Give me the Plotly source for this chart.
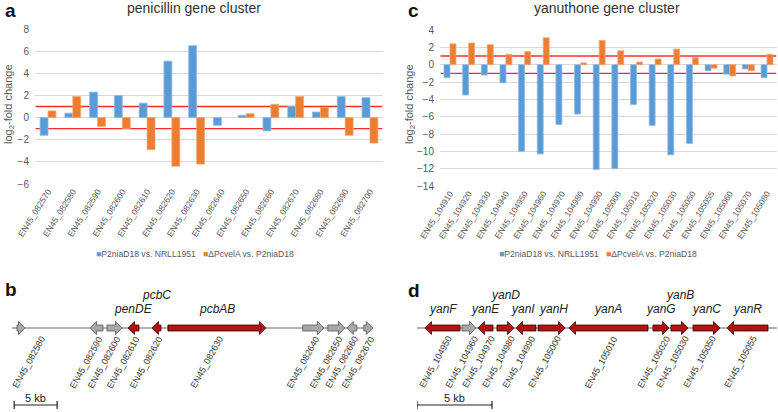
import plotly.graph_objects as go

# ---------------- data ----------------
pen_genes = ["EN45_082570", "EN45_082580", "EN45_082590", "EN45_082600", "EN45_082610",
             "EN45_082620", "EN45_082630", "EN45_082640", "EN45_082650", "EN45_082660",
             "EN45_082670", "EN45_082680", "EN45_082690", "EN45_082700"]
pen_p2nia = [-1.6, 0.4, 2.3, 2.0, 1.3, 5.1, 6.5, -0.7, 0.2, -1.2, 1.0, 0.5, 1.9, 1.8]
pen_velA = [0.6, 1.9, -0.8, -1.0, -2.9, -4.4, -4.2, None, 0.35, 1.2, 1.9, 0.9, -1.6, -2.3]

yan_genes = ["EN45_104910", "EN45_104920", "EN45_104930", "EN45_104940", "EN45_104950",
             "EN45_104960", "EN45_104970", "EN45_104980", "EN45_104990", "EN45_105000",
             "EN45_105010", "EN45_105020", "EN45_105030", "EN45_105050", "EN45_105055",
             "EN45_105060", "EN45_105070", "EN45_105080"]
yan_p2nia = [-1.5, -3.5, -1.2, -2.1, -10.0, -10.3, -6.9, -5.7, -12.1, -12.0,
             -4.6, -7.0, -10.4, -9.1, -0.7, -1.1, -0.5, -1.5]
yan_velA = [2.4, 2.5, 2.3, 1.2, 1.5, 3.1, None, 0.2, 2.8, 1.6,
            0.3, 0.65, 1.8, 0.8, -0.4, -1.3, -0.7, 1.2]

series_names = ["P2niaD18 vs. NRLL1951", "\u0394PcvelA vs. P2niaD18"]
threshold = 1.0

# gene maps (kb from locus start)
pen_map_ids = ["EN45_082580", "EN45_082590", "EN45_082600", "EN45_082610", "EN45_082620",
               "EN45_082630", "EN45_082640", "EN45_082650", "EN45_082660", "EN45_082670"]
pen_map_start = [0.58, 9.07, 11.05, 13.49, 16.28, 18.14, 33.84, 36.74, 38.95, 40.93]
pen_map_end = [1.51, 10.58, 12.79, 14.77, 17.33, 29.53, 36.28, 38.72, 40.12, 41.98]
pen_map_strand = [1, -1, 1, -1, -1, 1, 1, 1, -1, 1]
pen_map_names = ["", "", "", "penDE", "pcbC", "pcbAB", "", "", "", ""]
pen_locus = [0.0, 42.0]

yan_map_ids = ["EN45_104950", "EN45_104960", "EN45_104970", "EN45_104980", "EN45_104990",
               "EN45_105000", "EN45_105010", "EN45_105020", "EN45_105030", "EN45_105050",
               "EN45_105055"]
yan_map_start = [0.53, 3.0, 4.07, 5.33, 6.6, 8.07, 10.13, 15.73, 16.93, 18.4, 20.67]
yan_map_end = [2.87, 3.93, 5.07, 6.47, 7.93, 9.87, 15.4, 16.8, 18.07, 20.2, 23.4]
yan_map_strand = [-1, 1, -1, 1, -1, 1, -1, 1, 1, 1, -1]
yan_map_names = ["yanF", "", "yanE", "yanD", "yanI", "yanH", "yanA", "yanG", "yanB", "yanC", "yanR"]
yan_locus = [0.0, 24.0]

scale_kb = 5.0

# ---------------- style ----------------
W, H = 778, 412
FONT = "Liberation Sans, Arial, sans-serif"
BLUE, ORANGE = "#5B9BD5", "#ED7D31"
BLUE_EDGE, ORANGE_EDGE = "#8DBBE6", "#F4A672"
RED_LINE = "#FF2A2A"
GRID = "#D9D9D9"
TXT = "#595959"
GENE_RED, GENE_RED_EDGE = "#B01212", "#3A0505"
GENE_GREY, GENE_GREY_EDGE = "#A8A8A8", "#555555"
raised_names = {"pcbC", "yanD", "yanB"}
name_shift = {"yanI": -3, "yanH": 2}


def fx(p):
    return p / W


def fy(p):
    return 1 - p / H


fig = go.Figure()

# ---------- bar panels ----------
for xa, ya, cats, v1, v2 in [("x", "y", pen_genes, pen_p2nia, pen_velA),
                             ("x2", "y2", yan_genes, yan_p2nia, yan_velA)]:
    fig.add_trace(go.Bar(x=cats, y=v1, name=series_names[0], xaxis=xa, yaxis=ya,
                         marker=dict(color=BLUE, line=dict(color=BLUE_EDGE, width=0.8)),
                         showlegend=False))
    fig.add_trace(go.Bar(x=cats, y=v2, name=series_names[1], xaxis=xa, yaxis=ya,
                         marker=dict(color=ORANGE, line=dict(color=ORANGE_EDGE, width=0.8)),
                         showlegend=False))

# ---------- gene map panels ----------
HEAD_PX, BODY_H, HEAD_H = 6.5, 3.0, 6.5


def arrow(s, e, strand, pxkb):
    L = HEAD_PX / pxkb
    tail, tip = (s, e) if strand > 0 else (e, s)
    d = 1 if strand > 0 else -1
    if abs(e - s) <= L:
        return [tail, tip, tail, tail], [-HEAD_H, 0, HEAD_H, -HEAD_H]
    neck = tip - d * L
    xs = [tail, neck, neck, tip, neck, neck, tail, tail]
    ys = [-BODY_H, -BODY_H, -HEAD_H, 0, HEAD_H, BODY_H, BODY_H, -BODY_H]
    return xs, ys


maps = [
    ("x3", "y3", pen_map_ids, pen_map_start, pen_map_end, pen_map_strand, pen_map_names,
     pen_locus, (12, 373), -10),
    ("x4", "y4", yan_map_ids, yan_map_start, yan_map_end, yan_map_strand, yan_map_names,
     yan_locus, (417, 777), -7),
]

annotations = []
for xa, ya, ids, st, en, strand, names, locus, dom, lab_shift in maps:
    pxkb = (dom[1] - dom[0]) / (locus[1] - locus[0])
    # backbone
    fig.add_trace(go.Scatter(x=locus, y=[0, 0], mode="lines", xaxis=xa, yaxis=ya,
                             line=dict(color="#666666", width=1), showlegend=False,
                             hoverinfo="skip"))
    for core in (False, True):
        xs, ys = [], []
        for i in range(len(ids)):
            if (names[i] != "") != core:
                continue
            ax, ay = arrow(st[i], en[i], strand[i], pxkb)
            xs += ax + [None]
            ys += ay + [None]
        fig.add_trace(go.Scatter(
            x=xs, y=ys, mode="lines", fill="toself", xaxis=xa, yaxis=ya,
            fillcolor=GENE_RED if core else GENE_GREY,
            line=dict(color=GENE_RED_EDGE if core else GENE_GREY_EDGE, width=0.8),
            showlegend=False, hoverinfo="skip"))
    # scale bar
    x0 = locus[0] + (0.25 if xa == "x3" else 0.0)
    x1 = x0 + scale_kb
    fig.add_trace(go.Scatter(x=[x0, x0, x0, x1, x1, x1], y=[-81, -73, -77, -77, -73, -81],
                             mode="lines", xaxis=xa, yaxis=ya,
                             line=dict(color="#222222", width=1.2), showlegend=False,
                             hoverinfo="skip"))
    annotations.append(dict(x=(x0 + x1) / 2, y=-70, xref=xa, yref=ya, text="5 kb",
                            showarrow=False, font=dict(family=FONT, size=11, color="#222222"),
                            xanchor="center", yanchor="middle"))
    for i in range(len(ids)):
        c = (st[i] + en[i]) / 2
        extra = 18 if ids[i] == "EN45_082580" else 0
        annotations.append(dict(x=c, y=-34, xref=xa, yref=ya, text=ids[i], textangle=-61,
                                showarrow=False, xshift=lab_shift + extra,
                                font=dict(family=FONT, size=9, color="#333333"),
                                xanchor="center", yanchor="middle"))
        if names[i]:
            annotations.append(dict(x=c, y=33 if names[i] in raised_names else 19,
                                    xref=xa, yref=ya, text="<i>%s</i>" % names[i],
                                    showarrow=False, xshift=name_shift.get(names[i], 0),
                                    font=dict(family=FONT, size=12, color="#222222"),
                                    xanchor="center", yanchor="middle"))

# ---------- threshold lines ----------
shapes = []
for xa, ya, cats in [("x", "y", pen_genes), ("x2", "y2", yan_genes)]:
    for v in (threshold, -threshold):
        shapes.append(dict(type="line", xref=xa, yref=ya, x0=-0.5, x1=len(cats) - 0.5,
                           y0=v, y1=v, line=dict(color=RED_LINE, width=1.3), layer="below"))

# ---------- text annotations ----------
for letter, x, y in [("a", 3, 11), ("b", 3, 289), ("c", 406, 11), ("d", 406, 290)]:
    annotations.append(dict(x=fx(x), y=fy(y), xref="paper", yref="paper", text="<b>%s</b>" % letter,
                            showarrow=False, font=dict(family=FONT, size=19, color="#111111"),
                            xanchor="left", yanchor="middle"))
for t, x in [("penicillin gene cluster", 194), ("yanuthone gene cluster", 607)]:
    annotations.append(dict(x=fx(x), y=fy(8), xref="paper", yref="paper", text=t,
                            showarrow=False, font=dict(family=FONT, size=14, color="#333333"),
                            xanchor="center", yanchor="middle"))
for x in (9, 410):
    annotations.append(dict(x=fx(x), y=fy(104), xref="paper", yref="paper",
                            text="log<sub>2</sub>-fold change", textangle=-90,
                            showarrow=False, font=dict(family=FONT, size=11, color=TXT),
                            xanchor="center", yanchor="middle"))
legend_txt = ("<span style='color:%s'>\u25A0</span>%s&nbsp;&nbsp;&nbsp;"
              "<span style='color:%s'>\u25A0</span>%s") % (BLUE, series_names[0], ORANGE, series_names[1])
for x in (195, 598):
    annotations.append(dict(x=fx(x), y=fy(254), xref="paper", yref="paper", text=legend_txt,
                            showarrow=False, font=dict(family=FONT, size=8.6, color=TXT),
                            xanchor="center", yanchor="middle"))

bar_x = dict(type="category", tickangle=-58, tickfont=dict(family=FONT, size=8.5, color=TXT),
             showgrid=False, showline=False, zeroline=False, ticks="", fixedrange=True,
             automargin=False)
bar_y = dict(dtick=2, gridcolor=GRID, gridwidth=1, zeroline=False, showline=False,
             tickfont=dict(family=FONT, size=10, color=TXT), ticks="", ticklabelstandoff=5,
             fixedrange=True, automargin=False)
hidden = dict(visible=False, fixedrange=True, automargin=False)

fig.update_layout(
    width=W, height=H, margin=dict(l=0, r=0, t=0, b=0, pad=0, autoexpand=False),
    paper_bgcolor="white", plot_bgcolor="white",
    barmode="group", bargap=0.36, bargroupgap=0.0,
    font=dict(family=FONT),
    xaxis=dict(domain=[fx(35), fx(383)], anchor="y", **bar_x),
    yaxis=dict(domain=[fy(184), fy(29)], anchor="x", range=[-6, 8], **bar_y),
    xaxis2=dict(domain=[fx(440), fx(777)], anchor="y2", **bar_x),
    yaxis2=dict(domain=[fy(186), fy(30)], anchor="x2", range=[-14, 4], **bar_y),
    xaxis3=dict(domain=[fx(12), fx(373)], anchor="y3", range=pen_locus, **hidden),
    yaxis3=dict(domain=[0, fy(270)], anchor="x3", range=[-84, 58], **hidden),
    xaxis4=dict(domain=[fx(417), fx(777)], anchor="y4", range=yan_locus, **hidden),
    yaxis4=dict(domain=[0, fy(270)], anchor="x4", range=[-84, 58], **hidden),
    shapes=shapes, annotations=annotations, showlegend=False,
)

fig.write_html("out.html", config={"displayModeBar": False},
               post_script="document.body.style.margin='0';document.body.style.padding='0';")
